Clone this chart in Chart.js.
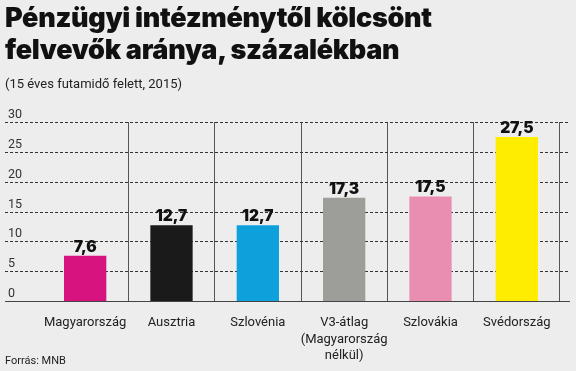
<!DOCTYPE html>
<html>
<head>
<meta charset="utf-8">
<script src="https://cdn.jsdelivr.net/npm/chart.js@4"></script>
<style>
  html, body { margin: 0; padding: 0; background: #ededed; }
  #wrap { position: relative; width: 576px; height: 371px; overflow: hidden; }
  #chart { position: absolute; left: 0; top: 0; }
  .title { position: absolute; left: 5px; top: 2px; font-family: Inter, Roboto, sans-serif; font-weight: 900;
           font-size: 27px; line-height: 32px; color: #111; letter-spacing: -0.3px; }
  .sub { position: absolute; left: 5px; top: 76px; font-family: Roboto, sans-serif; font-size: 13px; color: #222; }
  .src { position: absolute; left: 5px; top: 354px; font-family: "Liberation Sans Narrow", Roboto, sans-serif; font-size: 11px; color: #222; }
</style>
</head>
<body>
<div id="wrap">
  <canvas id="chart" width="576" height="371"></canvas>
  <div class="title">Pénzügyi intézménytől kölcsönt<br>felvevők aránya, százalékban</div>
  <div class="sub">(15 éves futamidő felett, 2015)</div>
  <div class="src">Forrás: MNB</div>
</div>
<script>
const categories = ["Magyarország", "Ausztria", "Szlovénia", ["V3-átlag", "(Magyarország", "nélkül)"], "Szlovákia", "Svédország"];
const shares = [7.6, 12.7, 12.7, 17.3, 17.5, 27.5];
const barColors = ["#d6137f", "#1b1a1a", "#0ea0db", "#9d9e9a", "#e98db1", "#ffed00"];
const yTicks = [0, 5, 10, 15, 20, 25, 30];

// dashed horizontal lines across the whole width, solid baseline
const gridPlugin = {
    id: "fullGrid",
    beforeDatasetsDraw(chart) {
        const ctx = chart.ctx;
        const y = chart.scales.y;
        ctx.save();
        ctx.strokeStyle = "#333";
        ctx.lineWidth = 1;
        yTicks.forEach(function (v) {
            if (v === 0) return;
            const py = Math.round(y.getPixelForValue(v)) + 0.5;
            ctx.setLineDash([3, 2]);
            ctx.beginPath();
            ctx.moveTo(5, py);
            ctx.lineTo(570, py);
            ctx.stroke();
        });
        ctx.restore();
    },
    afterDatasetsDraw(chart) {
        const ctx = chart.ctx;
        const y = chart.scales.y;
        const py = Math.round(y.getPixelForValue(0)) + 0.5;
        ctx.save();
        ctx.strokeStyle = "#444";
        ctx.lineWidth = 1.2;
        ctx.beginPath();
        ctx.moveTo(5, py);
        ctx.lineTo(570, py);
        ctx.stroke();

        // value labels
        ctx.font = "900 15.5px Inter, Roboto, sans-serif";
        ctx.textAlign = "center";
        ctx.textBaseline = "bottom";
        ctx.fillStyle = "#111";
        chart.getDatasetMeta(0).data.forEach(function (bar, i) {
            ctx.fillText(shares[i].toFixed(1).replace(".", ","), bar.x, bar.y - 1);
        });
        ctx.restore();
    }
};

new Chart(document.getElementById("chart"), {
    type: "bar",
    data: {
        labels: categories,
        datasets: [{
            data: shares,
            backgroundColor: barColors,
            categoryPercentage: 1,
            barPercentage: 0.49
        }]
    },
    options: {
        responsive: false,
        animation: false,
        layout: { padding: { top: 122, left: 8, right: 16, bottom: 0 } },
        plugins: { legend: { display: false }, tooltip: { enabled: false } },
        scales: {
            x: {
                grid: {
                    drawTicks: false,
                    color: function (c) {
                        return (c.index === 0 || c.index === categories.length) ? "rgba(0,0,0,0)" : "#555";
                    }
                },
                border: { display: false },
                ticks: {
                    padding: 14,
                    color: "#222",
                    font: { family: "Roboto, sans-serif", size: 13, lineHeight: 1.25 },
                    autoSkip: false,
                    maxRotation: 0
                },
                afterFit: function (s) { s.height = 70; }
            },
            y: {
                min: 0,
                max: 30,
                grid: { display: false },
                border: { display: false },
                ticks: {
                    stepSize: 5,
                    crossAlign: "far",
                    labelOffset: -7,
                    padding: 0,
                    color: "#333",
                    font: { family: "Roboto, sans-serif", size: 12.5 }
                },
                afterFit: function (s) { s.width = 34; }
            }
        }
    },
    plugins: [gridPlugin]
});
</script>
</body>
</html>
